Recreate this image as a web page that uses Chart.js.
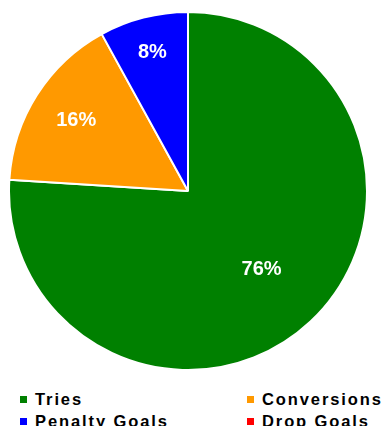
<!DOCTYPE html>
<html>
<head>
<meta charset="utf-8">
<script src="https://cdn.jsdelivr.net/npm/chart.js@4/dist/chart.umd.min.js"></script>
<style>
    html, body {
        margin: 0;
        padding: 0;
        background: #fff;
        width: 383px;
        height: 426px;
        overflow: hidden;
        font-family: "Liberation Sans", Arial, sans-serif;
    }
    #pie-wrap {
        position: absolute;
        left: 8px;
        top: 11px;
        width: 360px;
        height: 360px;
    }
    #legend {
        position: absolute;
        left: 20px;
        top: 388px;
        display: grid;
        grid-template-columns: 227px 136px;
        grid-auto-rows: 22px;
    }
    .legend-item {
        display: flex;
        align-items: center;
        font-size: 16.5px;
        font-weight: bold;
        letter-spacing: 1.9px;
        color: #000;
        white-space: nowrap;
    }
    .legend-box {
        width: 7px;
        height: 7px;
        margin-right: 8px;
        flex: none;
    }
</style>
</head>
<body>
<div id="pie-wrap"><canvas id="scoringChart"></canvas></div>
<div id="legend"></div>

<script>
// Share of points by scoring type
const categories = ['Tries', 'Conversions', 'Penalty Goals', 'Drop Goals'];
const shares = [76, 16, 8, 0];
const sliceColors = ['#008000', '#FF9900', '#0000FF', '#FF0000'];

// How far out (fraction of radius) each percentage label sits
const labelRadius = [0.6, 0.74, 0.8, 0.8];

// Draws the white percentage text on each slice
const sliceLabels = {
    id: 'sliceLabels',
    afterDatasetsDraw(chart) {
        const ctx = chart.ctx;
        const meta = chart.getDatasetMeta(0);
        const total = shares.reduce((a, b) => a + b, 0);
        ctx.save();
        ctx.fillStyle = '#ffffff';
        ctx.font = 'bold 20px "Liberation Sans", Arial, sans-serif';
        ctx.textAlign = 'center';
        ctx.textBaseline = 'middle';
        meta.data.forEach((arc, i) => {
            if (!shares[i]) return;
            const p = arc.getProps(['x', 'y', 'startAngle', 'endAngle', 'outerRadius']);
            const mid = (p.startAngle + p.endAngle) / 2;
            const r = p.outerRadius * labelRadius[i];
            const pct = Math.round(shares[i] / total * 100) + '%';
            ctx.fillText(pct, p.x + Math.cos(mid) * r, p.y + Math.sin(mid) * r);
        });
        ctx.restore();
    }
};

const ctx = document.getElementById('scoringChart').getContext('2d');
const chart = new Chart(ctx, {
    type: 'pie',
    data: {
        labels: categories,
        datasets: [{
            data: shares,
            backgroundColor: sliceColors,
            borderColor: '#ffffff',
            borderWidth: 2
        }]
    },
    options: {
        responsive: true,
        maintainAspectRatio: false,
        animation: false,
        layout: { padding: 0 },
        plugins: {
            legend: { display: false },
            tooltip: { enabled: false }
        }
    },
    plugins: [sliceLabels]
});

// Build the two-column legend from the chart's own legend items
const legendEl = document.getElementById('legend');
const items = Chart.overrides.pie.plugins.legend.labels.generateLabels(chart);
items.forEach(item => {
    const row = document.createElement('div');
    row.className = 'legend-item';
    const box = document.createElement('span');
    box.className = 'legend-box';
    box.style.background = item.fillStyle;
    const text = document.createElement('span');
    text.textContent = item.text;
    row.appendChild(box);
    row.appendChild(text);
    legendEl.appendChild(row);
});
</script>
</body>
</html>
